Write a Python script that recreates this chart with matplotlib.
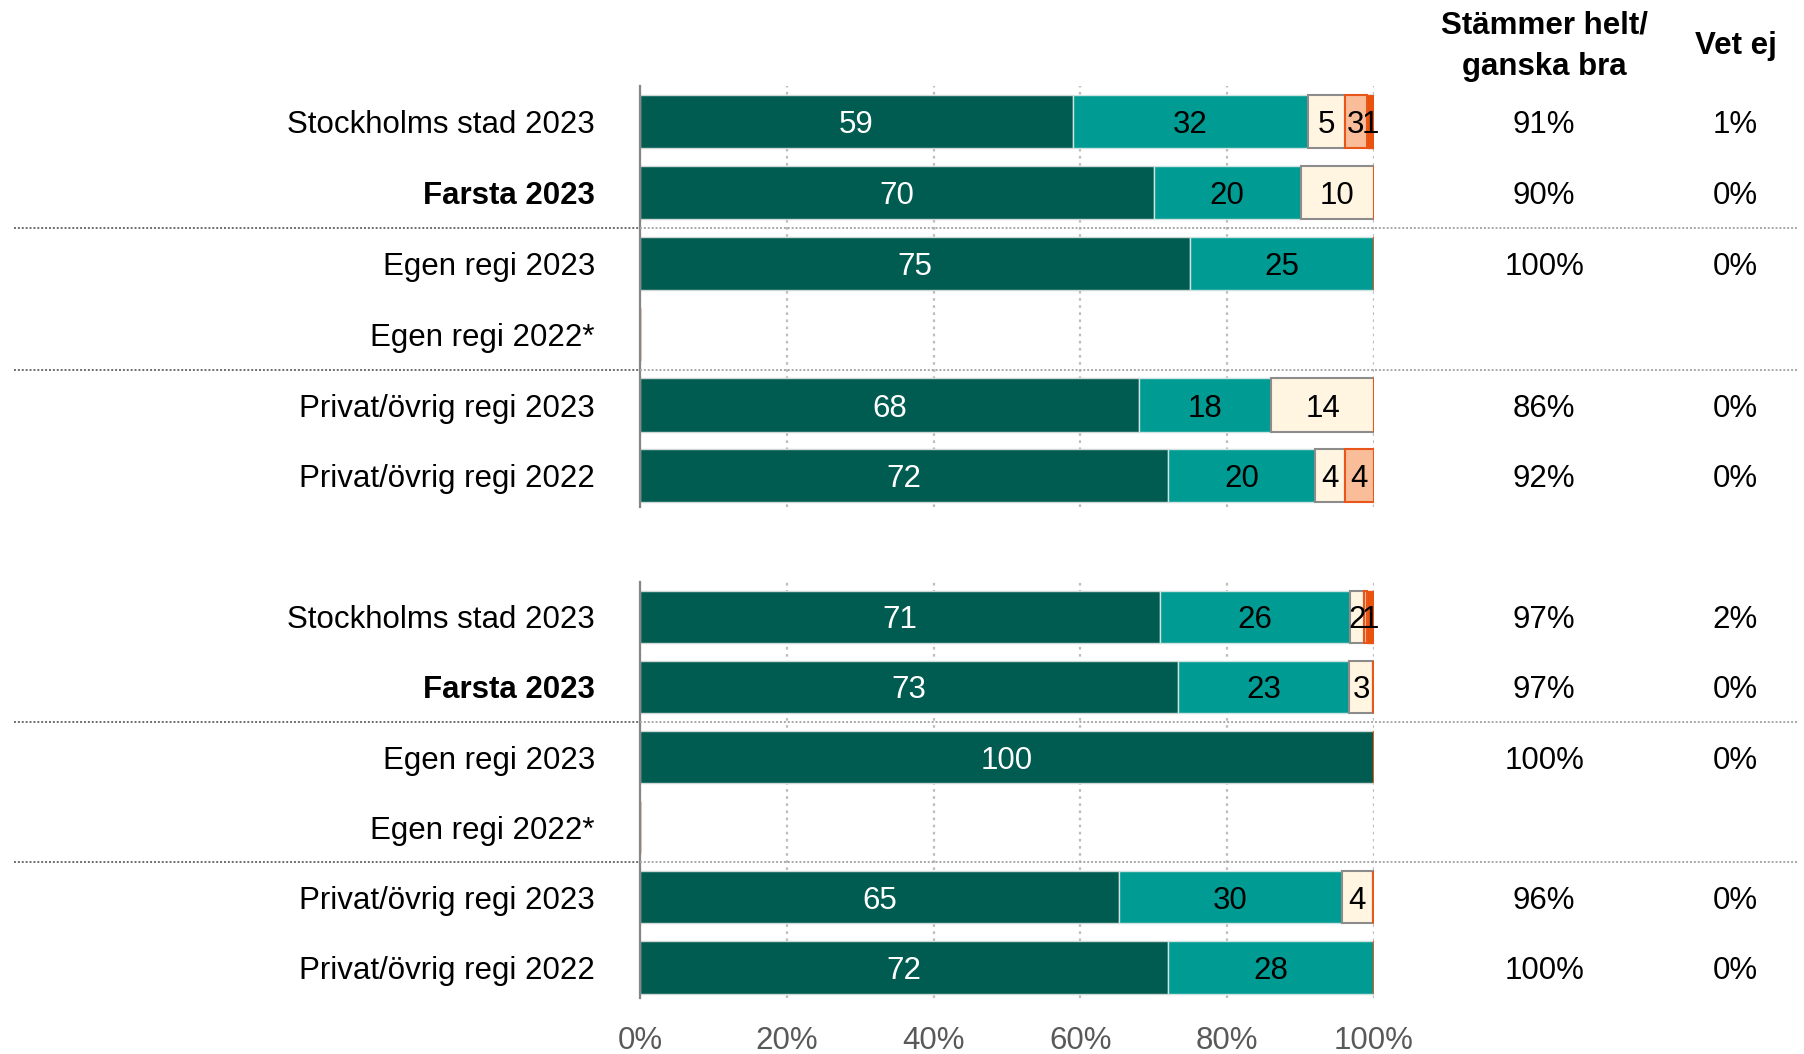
import numpy as np
import matplotlib
matplotlib.use('Agg')
import matplotlib.pyplot as plt
from matplotlib.transforms import blended_transform_factory
from matplotlib.lines import Line2D

plt.rcParams['font.family'] = ['Liberation Sans', 'DejaVu Sans']

# rows are shared by both panels
row_labels = ["Stockholms stad 2023", "Farsta 2023", "Egen regi 2023",
              "Egen regi 2022*", "Privat/övrig regi 2023", "Privat/övrig regi 2022"]
bold_rows = ["Farsta 2023"]

# upper panel, percent per answer category
top_helt = [59, 70, 75, 0, 68, 72]
top_ganska = [32, 20, 25, 0, 18, 20]
top_inte_sarskilt = [5, 10, 0, 0, 14, 4]
top_ganska_daligt = [3, 0, 0, 0, 0, 4]
top_inte_alls = [1, 0, 0, 0, 0, 0]
top_share = ["91%", "90%", "100%", "", "86%", "92%"]
top_vet_ej = ["1%", "0%", "0%", "", "0%", "0%"]

# lower panel
bot_helt = [70.8, 73.3, 100, 0, 65.2, 72]
bot_ganska = [25.9, 23.3, 0, 0, 30.4, 28]
bot_inte_sarskilt = [1.9, 3.3, 0, 0, 4.3, 0]
bot_ganska_daligt = [0.4, 0, 0, 0, 0, 0]
bot_inte_alls = [1.0, 0, 0, 0, 0, 0]
bot_share = ["97%", "97%", "100%", "", "96%", "100%"]
bot_vet_ej = ["2%", "0%", "0%", "", "0%", "0%"]

xticks = [0, 20, 40, 60, 80, 100]
xtick_labels = ["0%", "20%", "40%", "60%", "80%", "100%"]

SEG_STYLE = [  # face, edge, edge width, text colour
    ('#005b50', '#cfd8d6', 1.0, 'white'),
    ('#009b93', '#cfe3e1', 1.0, 'black'),
    ('#fff5e1', '#8c8c8c', 1.5, 'black'),
    ('#f9bd9a', '#e8561a', 1.5, 'black'),
    ('#e9520f', '#e8561a', 1.0, 'black'),
]
FS = 22.5

fig = plt.figure(figsize=(18.04, 10.54), dpi=100)
ax_top = fig.add_axes([0.3548, 0.519, 0.4068, 0.399])
ax_bot = fig.add_axes([0.3548, 0.053, 0.4068, 0.395])


def draw_panel(ax, segments, share, vet_ej, show_ticks):
    y = np.arange(len(row_labels))
    left = np.zeros(len(row_labels))
    for vals, (face, edge, lw, tcol) in zip(segments, SEG_STYLE):
        vals = np.array(vals, dtype=float)
        ax.barh(y, vals, left=left, height=0.75, color=face, edgecolor=edge,
                linewidth=lw, zorder=3)
        for yi, (l, v) in enumerate(zip(left, vals)):
            if round(v) >= 1:
                ax.text(l + v / 2, yi, f"{round(v)}", ha='center', va='center_baseline',
                        fontsize=FS, color=tcol, zorder=4)
        left += vals
    ax.set_xlim(0, 100)
    ax.set_ylim(len(row_labels) - 0.56, -0.50)
    ax.set_yticks([])
    ax.set_xticks(xticks)
    if show_ticks:
        ax.set_xticklabels(xtick_labels, fontsize=FS, color='#595959')
    else:
        ax.set_xticklabels([])
    ax.tick_params(axis='x', length=0, pad=20)
    ax.grid(axis='x', linestyle=(0, (1.2, 2)), color='#bdbdbd', linewidth=1.6, zorder=0)
    for s in ['top', 'right', 'bottom']:
        ax.spines[s].set_visible(False)
    ax.spines['left'].set_color('#868686')
    ax.spines['left'].set_linewidth(1.6)
    ax.spines['left'].set_zorder(5)

    tr = blended_transform_factory(fig.transFigure, ax.transData)
    for yi, name in enumerate(row_labels):
        ax.text(0.3298, yi, name, transform=tr, ha='right', va='center_baseline', fontsize=FS,
                fontweight='bold' if name in bold_rows else 'normal')
        ax.text(0.856, yi, share[yi], transform=tr, ha='center', va='center_baseline', fontsize=FS)
        ax.text(0.962, yi, vet_ej[yi], transform=tr, ha='center', va='center_baseline', fontsize=FS)

    # dotted separators between the comparison groups
    for ys in [1.5, 3.5]:
        fig.add_artist(Line2D([0.008, 0.3548], [ys, ys], transform=tr, color='#6e6e6e',
                              linestyle=(0, (1, 1)), linewidth=1.4))
        fig.add_artist(Line2D([0.3548, 0.996], [ys, ys], transform=tr, color='#a8a8a8',
                              linestyle=(0, (1, 1)), linewidth=1.4))


draw_panel(ax_top, [top_helt, top_ganska, top_inte_sarskilt, top_ganska_daligt, top_inte_alls],
           top_share, top_vet_ej, False)
draw_panel(ax_bot, [bot_helt, bot_ganska, bot_inte_sarskilt, bot_ganska_daligt, bot_inte_alls],
           bot_share, bot_vet_ej, True)

fig.text(0.856, 0.956, "Stämmer helt/\nganska bra", ha='center', va='center', fontsize=FS,
         fontweight='bold', linespacing=1.5)
fig.text(0.962, 0.956, "Vet ej", ha='center', va='center', fontsize=FS, fontweight='bold')

fig.savefig('out.png', dpi=100)
